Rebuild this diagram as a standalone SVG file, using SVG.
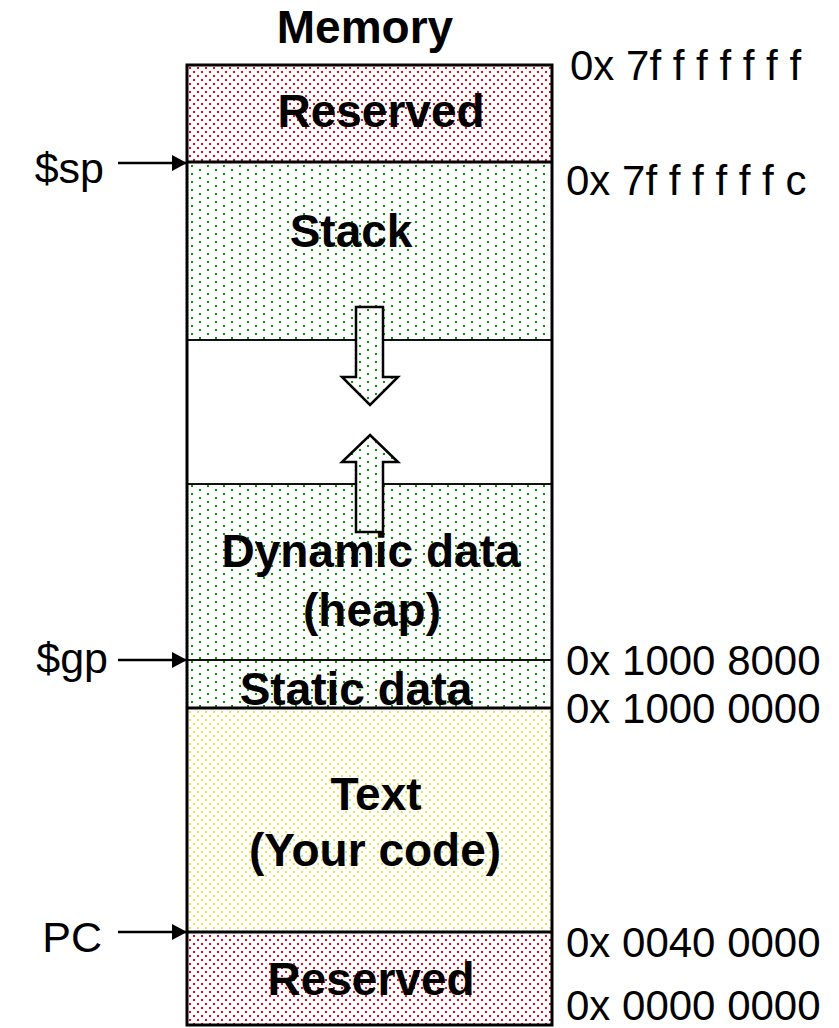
<svg xmlns="http://www.w3.org/2000/svg" width="839" height="1028" viewBox="0 0 839 1028">
<defs>
<pattern id="pr" width="8" height="8" patternUnits="userSpaceOnUse" x="188" y="66"><rect width="8" height="8" fill="#fff"/><rect x="1" y="1" width="2" height="2" fill="#f0001c"/><rect x="5" y="5" width="2" height="2" fill="#f0001c"/></pattern>
<pattern id="pg" width="16" height="8" patternUnits="userSpaceOnUse" x="188" y="164"><rect width="16" height="8" fill="#fff"/><rect x="3" y="1" width="2" height="2" fill="#009900"/><rect x="11" y="5" width="2" height="2" fill="#009900"/></pattern>
<pattern id="py" width="8" height="8" patternUnits="userSpaceOnUse" x="188" y="710"><rect width="8" height="8" fill="#fff"/><rect x="1" y="1" width="2" height="2" fill="#e8e840"/><rect x="5" y="5" width="2" height="2" fill="#e8e840"/></pattern>
<marker id="ah" markerWidth="16" markerHeight="16" refX="15" refY="8" orient="auto" markerUnits="userSpaceOnUse"><path d="M0,0 L15,8 L0,16 Z" fill="#000"/></marker>
<style>
.b{font-family:"Liberation Sans",Arial,sans-serif;font-weight:bold;font-size:46px;fill:#000;text-anchor:middle}
.r{font-family:"Liberation Sans",Arial,sans-serif;font-size:42px;fill:#000}
.l{font-family:"Liberation Sans",Arial,sans-serif;font-size:43px;fill:#000;text-anchor:end}
.thick{stroke:#000;stroke-width:3;fill:none}
.thin{stroke:#111;stroke-width:2;fill:none}
.arr{fill:url(#pg);stroke:#000;stroke-width:2.5;stroke-linejoin:miter}
</style>
</defs>
<text class="b" x="365" y="43">Memory</text>
<g id="reserved-top"><rect x="187" y="65" width="365" height="97" fill="url(#pr)"/><text class="b" x="381" y="127">Reserved</text></g>
<g id="stack"><rect x="187" y="162" width="365" height="178" fill="url(#pg)"/><text class="b" x="351" y="247">Stack</text></g>
<g id="free"><rect x="187" y="340" width="365" height="144" fill="#fff"/></g>
<g id="heap"><rect x="187" y="484" width="365" height="176" fill="url(#pg)"/></g>
<g id="static"><rect x="187" y="660" width="365" height="48" fill="url(#pg)"/></g>
<g id="text-seg"><rect x="187" y="708" width="365" height="224" fill="url(#py)"/><text class="b" x="376" y="810">Text</text><text class="b" x="375" y="866">(Your code)</text></g>
<g id="reserved-bottom"><rect x="187" y="932" width="365" height="93" fill="url(#pr)"/><text class="b" x="371" y="995">Reserved</text></g>
<g id="dividers">
<line class="thick" x1="187" y1="162" x2="552" y2="162"/>
<line class="thin" x1="187" y1="340" x2="552" y2="340"/>
<line class="thin" x1="187" y1="484" x2="552" y2="484"/>
<line class="thin" x1="187" y1="660" x2="552" y2="660"/>
<line class="thick" x1="187" y1="708" x2="552" y2="708"/>
<line class="thick" x1="187" y1="932" x2="552" y2="932"/>
<rect class="thick" x="187" y="65" width="365" height="960"/>
</g>
<g id="growth-arrows">
<path class="arr" d="M356,307 L383,307 L383,377 L398,377 L370,405 L342,377 L356,377 Z"/>
<path class="arr" d="M370,435 L398,462 L383,462 L383,532 L356,532 L356,462 L342,462 Z"/>
</g>
<text class="b" x="371" y="567">Dynamic data</text>
<text class="b" x="372" y="626">(heap)</text>
<text class="b" x="356" y="705">Static data</text>
<g id="connectors">
<line x1="118" y1="163" x2="187" y2="163" stroke="#000" stroke-width="2.5" marker-end="url(#ah)"/>
<line x1="118" y1="660" x2="187" y2="660" stroke="#000" stroke-width="2.5" marker-end="url(#ah)"/>
<line x1="118" y1="932" x2="187" y2="932" stroke="#000" stroke-width="2.5" marker-end="url(#ah)"/>
</g>
<g id="left-labels">
<text class="l" x="104" y="183">$sp</text>
<text class="l" x="108" y="673">$gp</text>
<text class="l" x="102" y="952">PC</text>
</g>
<g id="addresses">
<text class="r" x="570" y="80">0x 7f f f f f f f</text>
<text class="r" x="566" y="195">0x 7f f f f f f c</text>
<text class="r" x="566" y="675">0x 1000 8000</text>
<text class="r" x="566" y="723">0x 1000 0000</text>
<text class="r" x="566" y="957">0x 0040 0000</text>
<text class="r" x="566" y="1020">0x 0000 0000</text>
</g>
</svg>
